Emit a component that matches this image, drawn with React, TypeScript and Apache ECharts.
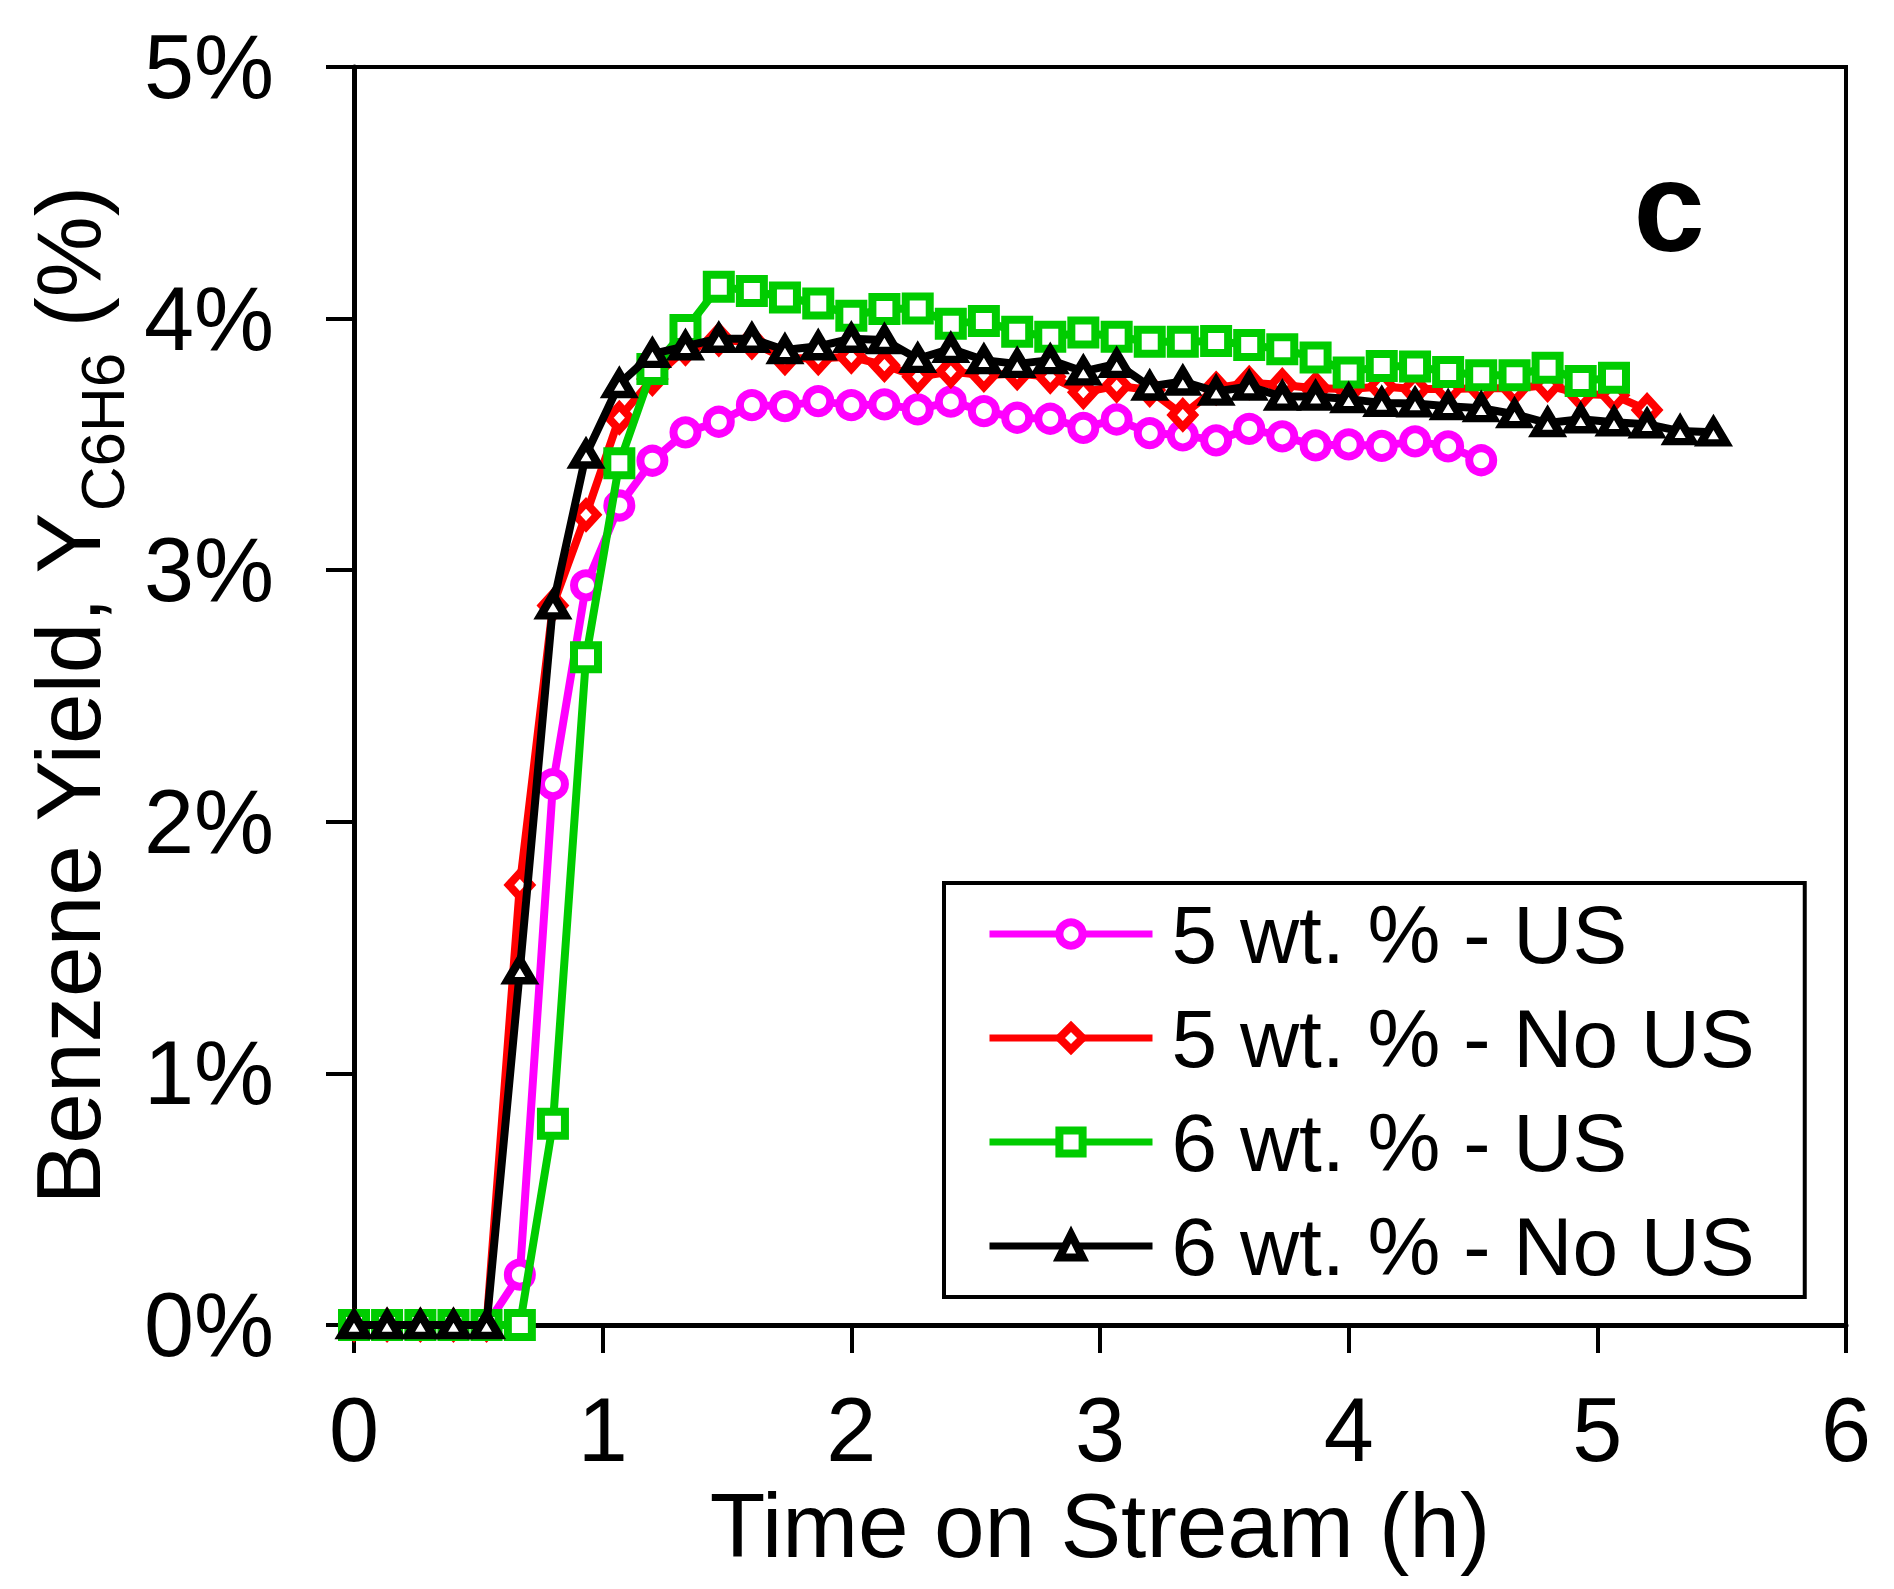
import React, { useEffect, useRef } from "react";
import * as echarts from "echarts";

const TIME_H = [
  0, 0.133, 0.267, 0.4, 0.533, 0.667, 0.8, 0.933, 1.067, 1.2, 1.333, 1.467, 1.6, 1.733,
  1.867, 2.0, 2.133, 2.267, 2.4, 2.533, 2.667, 2.8, 2.933, 3.067, 3.2, 3.333, 3.467, 3.6,
  3.733, 3.867, 4.0, 4.133, 4.267, 4.4, 4.533, 4.667, 4.8, 4.933, 5.067, 5.2, 5.333, 5.467,
];

const SERIES_NAMES = ["5 wt. % - US", "5 wt. % - No US", "6 wt. % - US", "6 wt. % - No US"];

const Y_5_US = [
  0, 0, 0, 0, 0, 0.2, 2.15, 2.94, 3.257, 3.435, 3.548, 3.59, 3.656, 3.652, 3.672, 3.656,
  3.659, 3.639, 3.67, 3.632, 3.606, 3.602, 3.566, 3.599, 3.545, 3.536, 3.516, 3.562, 3.532,
  3.496, 3.5, 3.494, 3.512, 3.492, 3.437,
];

const Y_5_NOUS = [
  0, 0, 0, 0, 0, 1.749, 2.86, 3.22, 3.606, 3.76, 3.88, 3.917, 3.905, 3.842, 3.842, 3.848,
  3.815, 3.769, 3.79, 3.775, 3.782, 3.769, 3.707, 3.733, 3.716, 3.617, 3.723, 3.745, 3.736,
  3.723, 3.72, 3.73, 3.72, 3.72, 3.723, 3.723, 3.736, 3.7, 3.695, 3.637,
];

const Y_6_US = [
  0, 0, 0, 0, 0, 0, 0.8, 2.654, 3.425, 3.8, 3.955, 4.127, 4.11, 4.084, 4.06, 4.011, 4.038,
  4.04, 3.98, 3.99, 3.948, 3.928, 3.945, 3.928, 3.908, 3.908, 3.911, 3.895, 3.878, 3.845,
  3.786, 3.812, 3.81, 3.788, 3.775, 3.775, 3.805, 3.752, 3.765,
];

const Y_6_NOUS = [
  0, 0, 0, 0, 0, 1.41, 2.86, 3.46, 3.74, 3.86, 3.89, 3.92, 3.92, 3.875, 3.89, 3.92, 3.915,
  3.84, 3.88, 3.835, 3.82, 3.835, 3.79, 3.82, 3.73, 3.75, 3.71, 3.73, 3.69, 3.69, 3.68,
  3.665, 3.663, 3.652, 3.644, 3.62, 3.585, 3.6, 3.588, 3.58, 3.553, 3.548,
];

const COLORS = ["#ff00ff", "#ff0000", "#00cc00", "#000000"];
const SYMBOLS = ["circle", "diamond", "rect", "triangle"];
const SYMBOL_SIZES: (number | number[])[] = [24, [22, 24], 24, [25, 21]];
const VALUES = [Y_5_US, Y_5_NOUS, Y_6_US, Y_6_NOUS];

const FONT = "'Liberation Sans', Arial, Helvetica, sans-serif";

export default function App() {
  const ref = useRef<HTMLDivElement | null>(null);

  useEffect(() => {
    if (!ref.current) return;
    const chart = echarts.init(ref.current, undefined, { renderer: "svg" });

    const series = VALUES.map((vals, k) => ({
      name: SERIES_NAMES[k],
      type: "line",
      data: vals.map((v, i) => [TIME_H[i], v]),
      symbol: SYMBOLS[k],
      symbolSize: SYMBOL_SIZES[k],
      showAllSymbol: true,
      lineStyle: { color: COLORS[k], width: 8 },
      itemStyle: { color: "#ffffff", borderColor: COLORS[k], borderWidth: 8 },
      emphasis: { disabled: true },
      z: 2 + k,
    }));

    chart.setOption({
      animation: false,
      backgroundColor: "#ffffff",
      grid: {
        left: 354,
        right: 48,
        top: 67,
        bottom: 264,
        show: true,
        borderColor: "#000",
        borderWidth: 4,
        backgroundColor: "transparent",
      },
      xAxis: {
        type: "value",
        min: 0,
        max: 6,
        interval: 1,
        name: "Time on Stream (h)",
        nameLocation: "middle",
        nameGap: 136,
        nameTextStyle: { fontSize: 91, fontFamily: FONT, color: "#000", lineHeight: 91 },
        axisLine: { show: true, onZero: false, lineStyle: { color: "#000", width: 5 } },
        axisTick: { show: true, length: 28, lineStyle: { color: "#000", width: 4 } },
        axisLabel: { fontSize: 90, fontFamily: FONT, color: "#000", margin: 60, lineHeight: 90 },
        splitLine: { show: false },
      },
      yAxis: {
        type: "value",
        min: 0,
        max: 5,
        interval: 1,
        name: "{a|Benzene Yield, Y}{s|C6H6}{a| (%)}",
        nameLocation: "middle",
        nameRotate: 90,
        nameGap: 219,
        nameTextStyle: {
          fontFamily: FONT,
          color: "#000",
          rich: {
            a: { fontSize: 91, lineHeight: 130, fontFamily: FONT, color: "#000" },
            s: {
              fontSize: 62,
              lineHeight: 61,
              verticalAlign: "bottom",
              fontFamily: FONT,
              color: "#000",
            },
          },
        },
        axisLine: { show: true, onZero: false, lineStyle: { color: "#000", width: 5 } },
        axisTick: { show: true, length: 28, lineStyle: { color: "#000", width: 4 } },
        axisLabel: {
          fontSize: 90,
          fontFamily: FONT,
          color: "#000",
          margin: 80,
          formatter: "{value}%",
        },
        splitLine: { show: false },
      },
      legend: {
        orient: "vertical",
        left: 944,
        top: 883,
        padding: [10, 50, 10, 42],
        itemWidth: 163,
        itemHeight: 29,
        itemGap: 22,
        borderColor: "#000",
        borderWidth: 4,
        backgroundColor: "#fff",
        selectedMode: false,
        data: SERIES_NAMES,
        itemStyle: { borderWidth: 8 },
        lineStyle: { width: 7 },
        textStyle: {
          fontSize: 82,
          lineHeight: 82,
          fontFamily: FONT,
          color: "#000",
          padding: [0, 0, 0, 14],
        },
      },
      graphic: [
        {
          type: "text",
          x: 1669,
          y: 206,
          style: {
            text: "c",
            font: `bold 128px ${FONT}`,
            fill: "#000",
            textAlign: "center",
            textVerticalAlign: "middle",
          },
        },
      ],
      series,
    });

    return () => chart.dispose();
  }, []);

  return (
    <div
      ref={ref}
      style={{ position: "absolute", left: 0, top: 0, width: 1894, height: 1589 }}
    />
  );
}
